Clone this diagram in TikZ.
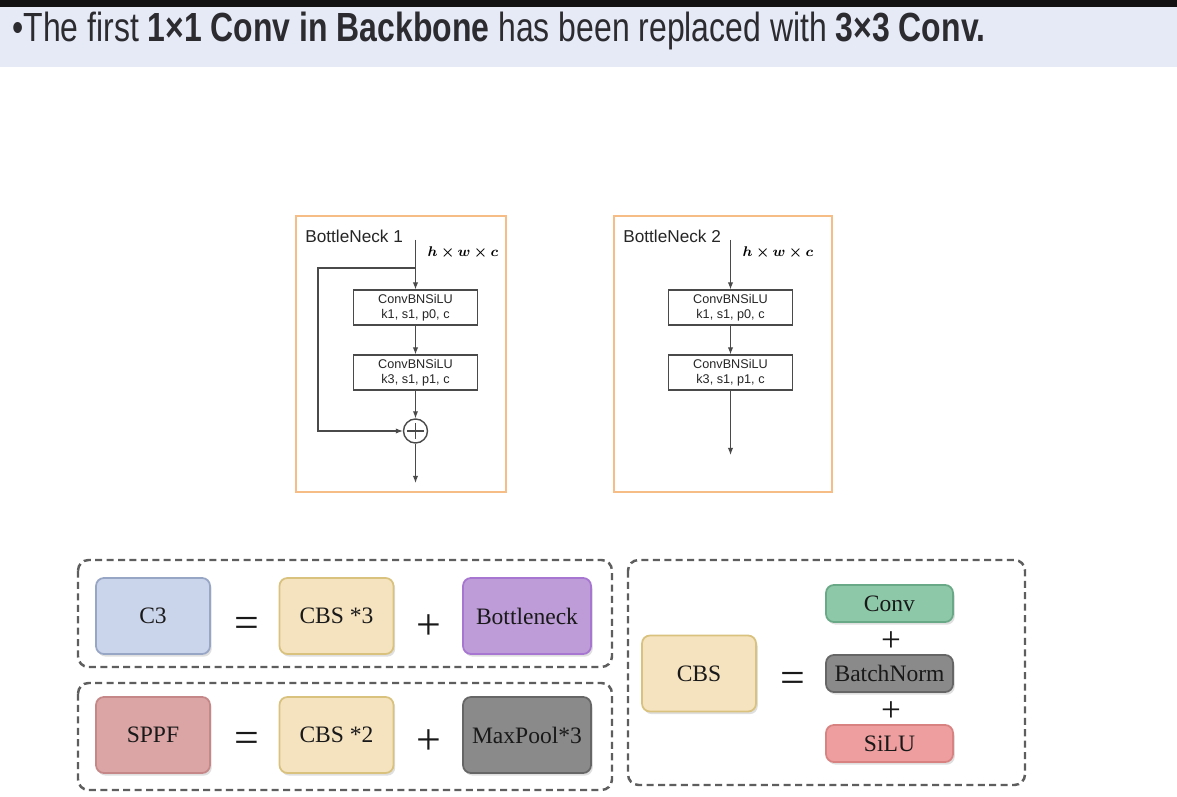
\documentclass[tikz,border=0pt]{standalone}
\usepackage{amsmath,amssymb,bm}
\usepackage{fontspec}
\setmainfont{Liberation Serif}
\setsansfont{Liberation Sans}
\usepackage{tikz}
\usetikzlibrary{arrows.meta}
\usetikzlibrary{shadows}
\usetikzlibrary{positioning}

\definecolor{bandblue}{HTML}{E5EAF6}
\definecolor{titlegray}{HTML}{2B2B30}
\definecolor{frameorange}{HTML}{F6BE86}
\definecolor{linegray}{HTML}{4A4A4A}
\definecolor{dashgray}{HTML}{5E5E5E}
\definecolor{cthreefill}{HTML}{CAD4EB}
\definecolor{cthreedraw}{HTML}{98A6C6}
\definecolor{cbsfill}{HTML}{F5E3C0}
\definecolor{cbsdraw}{HTML}{D9C27E}
\definecolor{bneckfill}{HTML}{BE9CD8}
\definecolor{bneckdraw}{HTML}{A676D0}
\definecolor{sppffill}{HTML}{DBA5A5}
\definecolor{sppfdraw}{HTML}{C58787}
\definecolor{poolfill}{HTML}{8A8A8A}
\definecolor{pooldraw}{HTML}{666666}
\definecolor{convfill}{HTML}{8DC8A8}
\definecolor{convdraw}{HTML}{6AA987}
\definecolor{silufill}{HTML}{EE9E9E}
\definecolor{siludraw}{HTML}{D98282}

\tikzset{
  layer/.style={draw=linegray, line width=0.6pt, fill=white, align=center,
    minimum width=2.48cm, minimum height=0.7cm, inner sep=0pt,
    font=\sffamily\fontsize{7.2}{8.6}\selectfont, text=black!85},
  flow/.style={draw=linegray, line width=0.6pt, -{Latex[length=4pt,width=3pt]}},
  bnframe/.style={draw=frameorange, line width=1pt},
  bnlabel/.style={anchor=west, inner sep=0pt, font=\sffamily\fontsize{9.8}{11}\selectfont, text=black!85},
  shapelbl/.style={inner sep=0pt, font=\fontsize{8.5}{10}\selectfont},
  module/.style={rounded corners=4.5pt, line width=1pt, inner sep=0pt,
    font=\fontsize{13.4}{16}\selectfont, text=black!90,
    drop shadow={opacity=0.25, shadow xshift=1pt, shadow yshift=-1.5pt}},
  bigmod/.style={module, minimum width=2.28cm, minimum height=1.52cm},
  widemod/.style={module, minimum width=2.56cm, minimum height=1.52cm},
  thinmod/.style={module, minimum width=2.54cm, minimum height=0.74cm},
  sign/.style={inner sep=0pt, font=\fontsize{25}{28}\selectfont, text=black!90},
  smallsign/.style={inner sep=0pt, font=\fontsize{20}{22}\selectfont, text=black!90},
  groupbox/.style={draw=dashgray, line width=1.4pt, dash pattern=on 4pt off 2.5pt, rounded corners=6pt}
}

\begin{document}
\begin{tikzpicture}[x=0.02cm, y=-0.02cm]
  \useasboundingbox (0,0) rectangle (1177,797);
  \fill[white] (0,0) rectangle (1177,797);

  % title band
  \fill[bandblue] (0,7) rectangle (1177,67);
  \fill[black!93] (0,0) rectangle (1177,7);
  \node[anchor=base west, inner sep=0pt, text=titlegray] (title) at (12,42)
    {\resizebox{19.46cm}{0.59cm}{\sffamily •The first \textbf{1×1 Conv in Backbone} has been replaced with \textbf{3×3 Conv.}}};

  % bottleneck 1
  \draw[bnframe] (296,216) rectangle (506,492);
  \node[bnlabel] (bnAlbl) at (305,236) {BottleNeck 1};
  \node[shapelbl] (bnAshape) at (463,253) {$\bm{h\times w\times c}$};
  \coordinate (bnAin) at (415.5,240);
  \coordinate (bnAsplit) at (415.5,268);
  \coordinate (bnAleft) at (318,268);
  \node[layer] (bnAconvA) at (415.5,307.5) {ConvBNSiLU\\k1, s1, p0, c};
  \node[layer] (bnAconvB) at (415.5,372.5) {ConvBNSiLU\\k3, s1, p1, c};
  \node[draw=linegray, line width=0.8pt, circle, minimum size=0.48cm, inner sep=0pt,
    path picture={
      \draw[line width=0.8pt] (path picture bounding box.center) ++(-4.6pt,0) -- ++(9.2pt,0);
      \draw[line width=0.8pt] (path picture bounding box.center) ++(0,-4.6pt) -- ++(0,9.2pt);
    }] (bnAadd) at (415.5,431) {};
  \coordinate (bnAout) at (415.5,483);
  \draw[flow] (bnAin) -- (bnAconvA);
  \draw[flow] (bnAconvA) -- (bnAconvB);
  \draw[flow] (bnAconvB) -- (bnAadd);
  \draw[flow] (bnAsplit) -- (bnAleft) |- (bnAadd);
  \draw[flow] (bnAadd) -- (bnAout);

  % bottleneck 2
  \draw[bnframe] (614,216) rectangle (832,492);
  \node[bnlabel] (bnBlbl) at (623,236) {BottleNeck 2};
  \node[shapelbl] (bnBshape) at (778,253) {$\bm{h\times w\times c}$};
  \coordinate (bnBin) at (730.5,240);
  \node[layer] (bnBconvA) at (730.5,307.5) {ConvBNSiLU\\k1, s1, p0, c};
  \node[layer] (bnBconvB) at (730.5,372.5) {ConvBNSiLU\\k3, s1, p1, c};
  \coordinate (bnBout) at (730.5,455);
  \draw[flow] (bnBin) -- (bnBconvA);
  \draw[flow] (bnBconvA) -- (bnBconvB);
  \draw[flow] (bnBconvB) -- (bnBout);

  % legend
  \draw[groupbox] (78,560) rectangle (612,667);
  \draw[groupbox] (78,683) rectangle (612,790);
  \draw[groupbox] (628,560) rectangle (1025,785);

  \node[bigmod, fill=cthreefill, draw=cthreedraw] (cthree) at (153,616) {C3};
  \node[sign] (eqA) at (247,627) {=};
  \node[bigmod, fill=cbsfill, draw=cbsdraw] (cbsA) at (336.5,616) {CBS *3};
  \node[sign] (plusA) at (429,627) {+};
  \node[widemod, fill=bneckfill, draw=bneckdraw] (bneck) at (527,616) {Bottleneck};

  \node[bigmod, fill=sppffill, draw=sppfdraw] (sppf) at (153,735) {SPPF};
  \node[sign] (eqB) at (247,742) {=};
  \node[bigmod, fill=cbsfill, draw=cbsdraw] (cbsB) at (336.5,735) {CBS *2};
  \node[sign] (plusB) at (429,742) {+};
  \node[widemod, fill=poolfill, draw=pooldraw] (pool) at (527,735) {MaxPool*3};

  \node[bigmod, fill=cbsfill, draw=cbsdraw] (cbs) at (699,673.5) {CBS};
  \node[sign] (eqC) at (793,682) {=};
  \node[thinmod, fill=convfill, draw=convdraw] (conv) at (889.5,603.5) {Conv};
  \node[thinmod, fill=poolfill, draw=pooldraw] (bnorm) at (889.5,673.5) {BatchNorm};
  \node[thinmod, fill=silufill, draw=siludraw] (silu) at (889.5,743.5) {SiLU};
  \node[smallsign] (plusC) at (891,642) {+};
  \node[smallsign] (plusD) at (891,712) {+};
\end{tikzpicture}
\end{document}
